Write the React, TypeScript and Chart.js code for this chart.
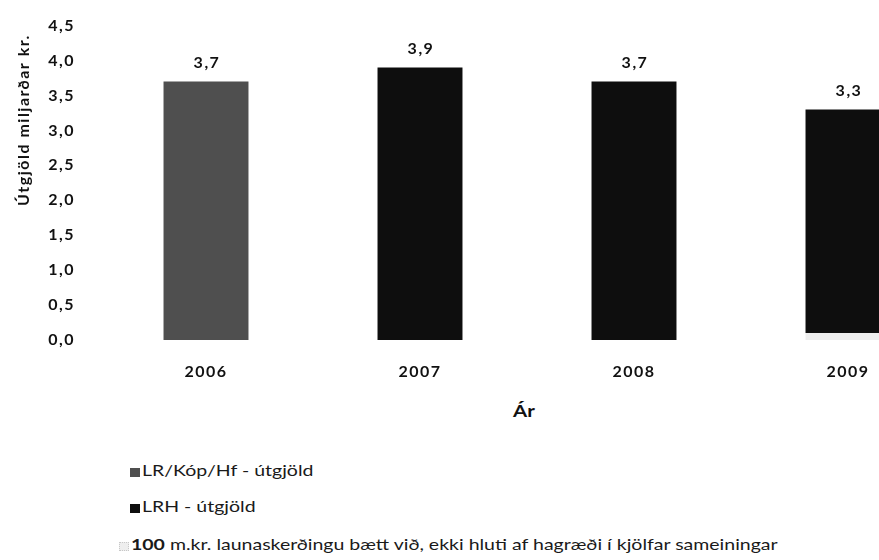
import React, { useEffect, useRef } from "react";
import { Chart, registerables } from "chart.js";

Chart.register(...registerables);

const categories = ["2006", "2007", "2008", "2009"];
const lrKopHf = [3.7, null, null, null];
const lrh = [null, 3.9, 3.7, 3.2];
const extra100 = [null, null, null, 0.1];
const legendLabels = [
  "LR/Kóp/Hf - útgjöld",
  "LRH - útgjöld",
  "100 m.kr. launaskerðingu bætt við, ekki hluti af hagræði í kjölfar sameiningar",
];
const yTitle = "Útgjöld miljarðar kr.";
const xTitle = "Ár";

const FONT = "Lato, 'Open Sans', sans-serif";
const colors = ["#4f4f4f", "#0e0e0e", "#eeeeee"];

const spacingPlugin = {
  id: "spacing",
  beforeDraw(chart: any) {
    (chart.ctx as any).letterSpacing = "1.5px";
  },
};

const labelPlugin = {
  id: "totals",
  afterDatasetsDraw(chart: any) {
    const ctx = chart.ctx;
    const xs = chart.scales.x;
    const ys = chart.scales.y;
    ctx.save();
    ctx.font = `bold 16px ${FONT}`;
    ctx.fillStyle = "#111";
    ctx.textAlign = "center";
    ctx.textBaseline = "middle";
    categories.forEach((_, i) => {
      let sum = 0;
      chart.data.datasets.forEach((d: any) => {
        const v = d.data[i];
        if (typeof v === "number") sum += v;
      });
      const x = xs.getPixelForValue(i);
      const y = ys.getPixelForValue(sum);
      ctx.fillText(sum.toFixed(1).replace(".", ","), x + 1, y - 19);
    });
    // y-axis title
    ctx.translate(24, 120);
    ctx.rotate(-Math.PI / 2);
    ctx.font = `bold 16px ${FONT}`;
    ctx.fillText(yTitle, 0, 0);
    ctx.restore();
  },
};

export default function App() {
  const ref = useRef<HTMLCanvasElement>(null);
  useEffect(() => {
    if (!ref.current) return;
    const chart = new Chart(ref.current, {
      type: "bar",
      data: {
        labels: categories,
        datasets: [
          { label: legendLabels[2], data: extra100, backgroundColor: colors[2] },
          { label: legendLabels[0], data: lrKopHf, backgroundColor: colors[0] },
          { label: legendLabels[1], data: lrh, backgroundColor: colors[1] },
        ],
      },
      options: {
        responsive: false,
        animation: false,
        devicePixelRatio: 1,
        layout: { padding: { top: 23, right: 45, left: 0, bottom: 0 } },
        plugins: { legend: { display: false }, tooltip: { enabled: false } },
        datasets: { bar: { barPercentage: 0.397, categoryPercentage: 1 } },
        scales: {
          x: {
            stacked: true,
            grid: { display: false },
            border: { display: false },
            ticks: { font: { family: FONT, size: 16, weight: "bold" }, color: "#111", padding: 14 },
            afterFit: (s: any) => { s.height = 60; },
          },
          y: {
            stacked: true,
            min: 0,
            max: 4.5,
            grid: { display: false },
            border: { display: false },
            ticks: {
              stepSize: 0.5,
              font: { family: FONT, size: 16, weight: "bold" },
              color: "#111",
              padding: 16,
              callback: (v: any) => Number(v).toFixed(1).replace(".", ","),
            },
            afterFit: (s: any) => { s.width = 99; },
          },
        },
      },
      plugins: [spacingPlugin, labelPlugin],
    });
    return () => chart.destroy();
  }, []);

  const rows = [
    { top: 472, marker: 130, text: 142 },
    { top: 508, marker: 130, text: 142 },
    { top: 546, marker: 119, text: 131 },
  ];
  return (
    <div style={{ position: "fixed", left: 0, top: 0, width: 879, height: 560, overflow: "hidden", background: "#fff" }}>
      <canvas ref={ref} width={1000} height={400} style={{ position: "absolute", left: 0, top: 0 }} />
      <div style={{ position: "absolute", left: 504, top: 400, width: 40, textAlign: "center", font: `bold 17px ${FONT}`, color: "#111", lineHeight: "22px", transform: "scaleX(1.2)" }}>
        {xTitle}
      </div>
      {legendLabels.map((t, i) => (
        <React.Fragment key={i}>
          <span style={{ position: "absolute", left: rows[i].marker, top: rows[i].top - 4, width: 10, height: 9, background: colors[i], border: i === 2 ? "1px dotted #c8c8c8" : "none", boxSizing: "border-box" }} />
          <div style={{ position: "absolute", left: rows[i].text, top: rows[i].top - 11, height: 22, lineHeight: "22px", whiteSpace: "nowrap", font: `15px ${FONT}`, color: "#1a1a1a", transform: "scaleX(1.3)", transformOrigin: "left center" }}>
            {i === 2 ? <><b>100</b>{t.slice(3)}</> : t}
          </div>
        </React.Fragment>
      ))}
    </div>
  );
}
